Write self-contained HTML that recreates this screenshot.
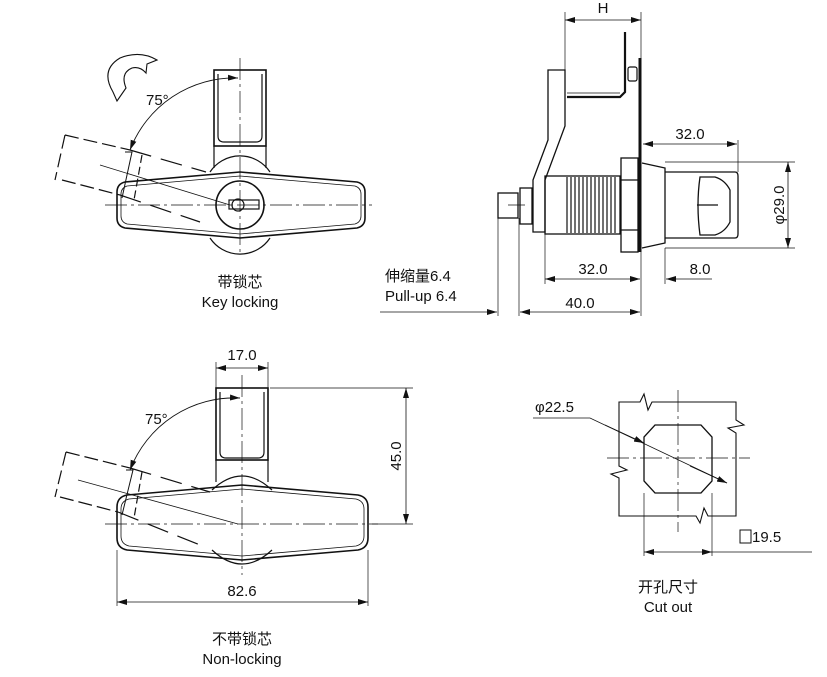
<!DOCTYPE html>
<html><head><meta charset="utf-8"><style>
html,body{margin:0;padding:0;background:#fff}
svg{display:block}
text{font-family:"Liberation Sans","Noto Sans CJK SC",sans-serif;fill:#111}
</style></head><body>
<svg width="827" height="677" viewBox="0 0 827 677" xmlns="http://www.w3.org/2000/svg">
<defs>
<marker id="a" viewBox="0 0 10 6" refX="10" refY="3" markerWidth="10" markerHeight="6" orient="auto-start-reverse" markerUnits="userSpaceOnUse"><path d="M0,0 L10,3 L0,6z" fill="#111"/></marker>
</defs>
<g stroke="#111" fill="none" stroke-width="1.2">
<line x1="240" y1="58" x2="240" y2="255" stroke-width="0.7" stroke-dasharray="22,4,3,4"/>
<line x1="105" y1="205" x2="372" y2="205" stroke-width="0.7" stroke-dasharray="22,4,3,4"/>
<rect x="214" y="70" width="52" height="76" stroke-width="1.6"/>
<path d="M218,74 V136 Q218,142 224,142 H256 Q262,142 262,136 V74"/>
<line x1="214" y1="146" x2="214" y2="168"/><line x1="266" y1="146" x2="266" y2="168"/>
<path d="M210,172 A36,36 0 0 1 270,172"/>
<path d="M210,238 A36,36 0 0 0 270,238"/>
<path d="M125,182 L240,172 L357,182 Q365,184 365,192 V218 Q365,226 357,228 L240,238 L125,228 Q117,226 117,218 V192 Q117,184 125,182Z" stroke-width="1.6"/>
<path d="M127,186 L240,176 L355,186 Q361,188 361,194 V216 Q361,222 355,224 L240,234 L127,224 Q121,222 121,216 V194 Q121,188 127,186Z" stroke-width="0.8"/>
<circle cx="240" cy="205" r="24" stroke-width="1.6"/>
<rect x="229" y="200" width="30" height="9" stroke-width="1.2"/>
<circle cx="238" cy="205" r="6"/>
<path d="M65,135 L130,150 M62,180 L120,195 M65,135 L55,180" stroke-dasharray="14,5"/>
<path d="M130,150 L206,172 M120,195 L200,222" stroke-dasharray="22,10"/>
<line x1="100" y1="165" x2="230" y2="205" stroke-width="0.8"/>
<path d="M125,152 L132,152 L122,198" stroke-width="1"/>
<line x1="142" y1="155" x2="134" y2="200" stroke-dasharray="8,4"/>
<path d="M130,150 A112,112 0 0 1 238,78" stroke-width="0.9" marker-start="url(#a)" marker-end="url(#a)"/>
<path d="M113,92 Q100,70 120,58 Q140,50 157,60 L147,64 L146,73 Q140,66 132,68 Q120,73 126,88 L117,101 Z" stroke-width="1.1"/>

<line x1="565" y1="12" x2="565" y2="72" stroke-width="0.7"/>
<line x1="641" y1="12" x2="641" y2="60" stroke-width="0.7"/>
<line x1="565" y1="20" x2="641" y2="20" stroke-width="0.8" marker-start="url(#a)" marker-end="url(#a)"/>
<line x1="640" y1="58" x2="640" y2="252" stroke-width="3"/>
<path d="M625,32 V92 L620,97 H567" stroke-width="2.2"/>
<line x1="567" y1="93" x2="620" y2="93" stroke-width="0.7"/>
<rect x="628" y="67" width="9" height="14" rx="2"/>
<path d="M548,70 H565 V126 L545,180 V232 H533 V180 L548,140 Z" stroke-width="1.3"/>
<rect x="545" y="176" width="75" height="58" stroke-width="1.3"/>
<g stroke-width="1.2">
<line x1="567" y1="177" x2="567" y2="233"/><line x1="571" y1="177" x2="571" y2="233"/><line x1="575" y1="177" x2="575" y2="233"/><line x1="579" y1="177" x2="579" y2="233"/><line x1="583" y1="177" x2="583" y2="233"/><line x1="587" y1="177" x2="587" y2="233"/><line x1="591" y1="177" x2="591" y2="233"/><line x1="595" y1="177" x2="595" y2="233"/><line x1="599" y1="177" x2="599" y2="233"/><line x1="603" y1="177" x2="603" y2="233"/><line x1="607" y1="177" x2="607" y2="233"/><line x1="611" y1="177" x2="611" y2="233"/><line x1="615" y1="177" x2="615" y2="233"/>
</g>
<rect x="621" y="158" width="17" height="94" stroke-width="1.3"/>
<line x1="621" y1="180" x2="638" y2="180"/><line x1="621" y1="230" x2="638" y2="230"/>
<path d="M642,163 L665,168 V243 L642,248" stroke-width="1.3"/>
<path d="M665,172 H735 Q738,172 738,176 V234 Q738,238 735,238 H665" stroke-width="1.3"/>
<path d="M700,177 H715 Q725,180 730,190 V222 Q725,232 715,235 H700 Q696,205 700,177Z" stroke-width="1.3"/>
<line x1="697" y1="205" x2="718" y2="205"/>
<rect x="498" y="193" width="20" height="25" stroke-width="1.3"/>
<rect x="520" y="188" width="12" height="36" stroke-width="1.3"/>
<line x1="508" y1="205" x2="525" y2="205" stroke-width="0.7"/>
<line x1="643" y1="144" x2="737" y2="144" stroke-width="0.8" marker-start="url(#a)" marker-end="url(#a)"/>
<line x1="738" y1="140" x2="738" y2="172" stroke-width="0.7"/>
<line x1="665" y1="162" x2="795" y2="162" stroke-width="0.7"/>
<line x1="665" y1="248" x2="795" y2="248" stroke-width="0.7"/>
<line x1="788" y1="162" x2="788" y2="248" stroke-width="0.8" marker-start="url(#a)" marker-end="url(#a)"/>
<line x1="498" y1="218" x2="498" y2="316" stroke-width="0.7"/>
<line x1="519" y1="218" x2="519" y2="316" stroke-width="0.7"/>
<line x1="545" y1="234" x2="545" y2="284" stroke-width="0.7"/>
<line x1="641" y1="252" x2="641" y2="316" stroke-width="0.7"/>
<line x1="665" y1="248" x2="665" y2="284" stroke-width="0.7"/>
<line x1="545" y1="279" x2="640" y2="279" stroke-width="0.8" marker-start="url(#a)" marker-end="url(#a)"/>
<line x1="712" y1="279" x2="666" y2="279" stroke-width="0.8" marker-end="url(#a)"/>
<line x1="380" y1="312" x2="497" y2="312" stroke-width="0.8" marker-end="url(#a)"/>
<line x1="520" y1="312" x2="640" y2="312" stroke-width="0.8" marker-start="url(#a)" marker-end="url(#a)"/>

<line x1="242" y1="375" x2="242" y2="575" stroke-width="0.7" stroke-dasharray="22,4,3,4"/>
<line x1="105" y1="524" x2="378" y2="524" stroke-width="0.7" stroke-dasharray="22,4,3,4"/>
<line x1="216" y1="362" x2="216" y2="388" stroke-width="0.7"/>
<line x1="268" y1="362" x2="268" y2="388" stroke-width="0.7"/>
<line x1="216" y1="368" x2="268" y2="368" stroke-width="0.8" marker-start="url(#a)" marker-end="url(#a)"/>
<rect x="216" y="388" width="52" height="72" stroke-width="1.6"/>
<path d="M220,392 V452 Q220,458 226,458 H258 Q264,458 264,452 V392"/>
<line x1="216" y1="460" x2="216" y2="482"/><line x1="268" y1="460" x2="268" y2="482"/>
<path d="M212,490 Q242,462 272,490"/>
<path d="M212,550 Q242,578 272,550"/>
<path d="M127,495 L242,485 L358,495 Q368,497 368,507 V538 Q368,548 358,550 L242,560 L127,550 Q117,548 117,538 V507 Q117,497 127,495Z" stroke-width="1.6"/>
<path d="M129,499 L242,489 L356,499 Q364,501 364,509 V536 Q364,544 356,546 L242,556 L129,546 Q121,544 121,536 V509 Q121,501 129,499Z" stroke-width="0.8"/>
<path d="M66,452 L130,468 M60,497 L118,512 M66,452 L55,497" stroke-dasharray="14,5"/>
<path d="M130,468 L210,492 M118,512 L200,545" stroke-dasharray="22,10"/>
<line x1="78" y1="480" x2="238" y2="524" stroke-width="0.8"/>
<path d="M126,470 L133,470 L122,515" stroke-width="1"/>
<line x1="142" y1="472" x2="134" y2="518" stroke-dasharray="8,4"/>
<path d="M130,470 A112,112 0 0 1 240,398" stroke-width="0.9" marker-start="url(#a)" marker-end="url(#a)"/>
<line x1="270" y1="388" x2="413" y2="388" stroke-width="0.7"/>
<line x1="372" y1="524" x2="413" y2="524" stroke-width="0.7"/>
<line x1="406" y1="388" x2="406" y2="524" stroke-width="0.8" marker-start="url(#a)" marker-end="url(#a)"/>
<line x1="117" y1="550" x2="117" y2="606" stroke-width="0.7"/>
<line x1="368" y1="550" x2="368" y2="606" stroke-width="0.7"/>
<line x1="117" y1="602" x2="368" y2="602" stroke-width="0.8" marker-start="url(#a)" marker-end="url(#a)"/>

<path d="M619,402 H640 L644,394 L648,410 L652,402 H736 V420 L744,425 L728,428 L736,433 V516 H708 L704,508 L700,523 L696,516 H619 V478 L611,474 L627,470 L619,466 Z" stroke-width="1.1"/>
<path d="M655,425 H701 L712,437 V481 L701,493 H655 L644,481 V437 Z" stroke-width="1.3"/>
<line x1="678" y1="390" x2="678" y2="532" stroke-width="0.7" stroke-dasharray="22,4,3,4"/>
<line x1="607" y1="458" x2="750" y2="458" stroke-width="0.7" stroke-dasharray="22,4,3,4"/>
<polyline points="533,418 590,418 727,483" stroke-width="0.8"/>
<line x1="605" y1="425" x2="644" y2="443" stroke-width="0.8" marker-end="url(#a)"/>
<line x1="690" y1="466" x2="727" y2="483" stroke-width="0.8" marker-end="url(#a)"/>
<line x1="644" y1="493" x2="644" y2="556" stroke-width="0.7"/>
<line x1="712" y1="493" x2="712" y2="556" stroke-width="0.7"/>
<line x1="644" y1="552" x2="712" y2="552" stroke-width="0.8" marker-start="url(#a)" marker-end="url(#a)"/>
<line x1="712" y1="552" x2="812" y2="552" stroke-width="0.7"/>
<rect x="740" y="530" width="11" height="13" stroke-width="1"/>
</g>
<g font-size="15">
<text x="146" y="105">75°</text>
<text x="145" y="424">75°</text>
<text x="240" y="287" text-anchor="middle">带锁芯</text>
<text x="240" y="307" text-anchor="middle">Key locking</text>
<text x="603" y="13" text-anchor="middle">H</text>
<text x="690" y="139" text-anchor="middle">32.0</text>
<text x="593" y="274" text-anchor="middle">32.0</text>
<text x="700" y="274" text-anchor="middle">8.0</text>
<text x="580" y="308" text-anchor="middle">40.0</text>
<text x="385" y="281">伸缩量6.4</text>
<text x="385" y="301">Pull-up 6.4</text>
<text transform="translate(784,205) rotate(-90)" text-anchor="middle">φ29.0</text>
<text x="242" y="360" text-anchor="middle">17.0</text>
<text transform="translate(401,456) rotate(-90)" text-anchor="middle">45.0</text>
<text x="242" y="596" text-anchor="middle">82.6</text>
<text x="242" y="644" text-anchor="middle">不带锁芯</text>
<text x="242" y="664" text-anchor="middle">Non-locking</text>
<text x="535" y="412">φ22.5</text>
<text x="752" y="542">19.5</text>
<text x="668" y="592" text-anchor="middle">开孔尺寸</text>
<text x="668" y="612" text-anchor="middle">Cut out</text>
</g>
</svg>
</body></html>
